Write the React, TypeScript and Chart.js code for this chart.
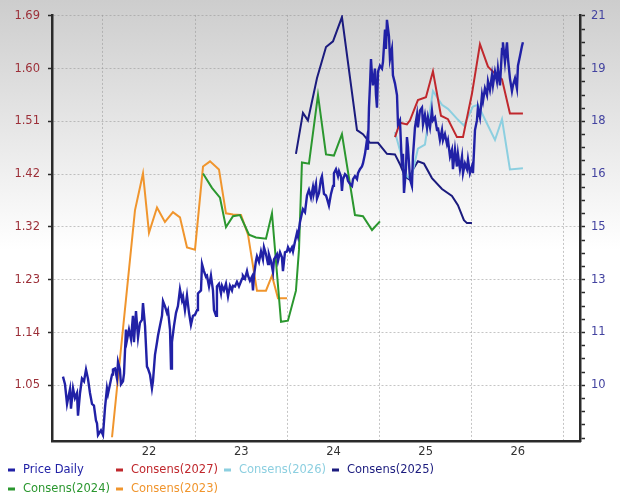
import React, { useEffect, useRef } from 'react';
import { Chart, registerables } from 'chart.js';

Chart.register(...registerables);

// ---------- data ----------
const PRICE_YEARS = [
  2021.566, 2021.588, 2021.610, 2021.642, 2021.653, 2021.675, 2021.696, 2021.718, 2021.729, 2021.751,
  2021.772, 2021.794, 2021.816, 2021.837, 2021.859, 2021.881, 2021.902, 2021.924, 2021.935, 2021.946,
  2021.978, 2022.000, 2022.022, 2022.043, 2022.054, 2022.076, 2022.098, 2022.108, 2022.130, 2022.152,
  2022.163, 2022.184, 2022.195, 2022.217, 2022.228, 2022.249, 2022.260, 2022.282, 2022.304, 2022.325,
  2022.336, 2022.358, 2022.380, 2022.401, 2022.423, 2022.434, 2022.456, 2022.477, 2022.488, 2022.510,
  2022.531, 2022.542, 2022.564, 2022.586, 2022.597, 2022.618, 2022.640, 2022.651, 2022.672, 2022.694,
  2022.705, 2022.727, 2022.738, 2022.748, 2022.770, 2022.792, 2022.813, 2022.835, 2022.857, 2022.868,
  2022.889, 2022.911, 2022.933, 2022.954, 2022.976, 2022.998, 2023.020, 2023.030, 2023.063, 2023.074,
  2023.095, 2023.117, 2023.128, 2023.150, 2023.171, 2023.193, 2023.204, 2023.226, 2023.236, 2023.258,
  2023.280, 2023.291, 2023.312, 2023.334, 2023.356, 2023.377, 2023.399, 2023.410, 2023.432, 2023.453,
  2023.475, 2023.508, 2023.518, 2023.540, 2023.562, 2023.573, 2023.594, 2023.616, 2023.627, 2023.638,
  2023.659, 2023.670, 2023.692, 2023.714, 2023.735, 2023.746, 2023.768, 2023.790, 2023.800, 2023.822,
  2023.844, 2023.855, 2023.887, 2023.898, 2023.920, 2023.941, 2023.952, 2023.974, 2023.996, 2024.007,
  2024.028, 2024.050, 2024.061, 2024.082, 2024.104, 2024.115, 2024.137, 2024.158, 2024.169, 2024.191,
  2024.213, 2024.234, 2024.256, 2024.278, 2024.288, 2024.310, 2024.321, 2024.343, 2024.364, 2024.375,
  2024.397, 2024.419, 2024.430, 2024.451, 2024.473, 2024.495, 2024.505, 2024.527, 2024.549, 2024.560,
  2024.581, 2024.592, 2024.603, 2024.625, 2024.646, 2024.657, 2024.679, 2024.701, 2024.712, 2024.733,
  2024.755, 2024.766, 2024.787, 2024.809, 2024.820, 2024.842, 2024.863, 2024.874, 2024.885, 2024.896,
  2024.907, 2024.918, 2024.928, 2024.950, 2024.961, 2024.972, 2024.983, 2025.004, 2025.026, 2025.037,
  2025.059, 2025.069, 2025.080, 2025.102, 2025.113, 2025.134, 2025.145, 2025.167, 2025.189, 2025.200,
  2025.221, 2025.232, 2025.243, 2025.254, 2025.265, 2025.286, 2025.297, 2025.308, 2025.330, 2025.351,
  2025.362, 2025.384, 2025.406, 2025.416, 2025.438, 2025.460, 2025.471, 2025.492, 2025.514, 2025.525,
  2025.547, 2025.568, 2025.579, 2025.601, 2025.623, 2025.633, 2025.655, 2025.677, 2025.688, 2025.709,
  2025.731, 2025.742, 2025.764, 2025.785, 2025.796, 2025.818, 2025.839, 2025.850, 2025.872, 2025.894,
  2025.905, 2025.926, 2025.948, 2025.959, 2025.980, 2026.002, 2026.013, 2026.035, 2026.056, 2026.067,
  2026.089, 2026.111, 2026.122, 2026.143, 2026.165, 2026.176, 2026.197, 2026.219, 2026.230, 2026.252,
  2026.273, 2026.284, 2026.306, 2026.328, 2026.338, 2026.360, 2026.382, 2026.393, 2026.414, 2026.436,
  2026.447, 2026.469, 2026.490, 2026.501, 2026.523, 2026.544, 2026.555,
];

const PRICE_VALUES = [
  10.06, 9.83, 9.24, 9.68, 9.10, 9.71, 9.42, 9.57, 8.89, 9.57,
  10.00, 9.92, 10.27, 10.00, 9.57, 9.24, 9.19, 8.75, 8.66, 8.31,
  8.45, 8.31, 9.13, 9.71, 9.54, 9.83, 10.12, 10.27, 10.30, 10.00,
  10.50, 10.27, 9.83, 9.92, 10.15, 11.47, 11.15, 11.47, 11.18, 11.88,
  11.09, 12.02, 11.23, 11.67, 11.76, 12.26, 11.58, 10.36, 10.30, 10.12,
  9.71, 9.92, 10.71, 11.09, 11.29, 11.58, 11.88, 12.32, 12.17, 11.97,
  12.05, 11.47, 10.30, 11.09, 11.58, 11.97, 12.17, 12.67, 12.35, 12.46,
  12.05, 12.49, 11.97, 11.61, 11.88, 11.91, 12.05, 12.55, 12.64, 13.43,
  13.22, 13.05, 13.08, 12.76, 13.08, 12.64, 12.05, 11.88, 12.76, 12.84,
  12.55, 12.78, 12.64, 12.84, 12.46, 12.78, 12.64, 12.78, 12.76, 12.90,
  12.76, 12.99, 13.08, 12.99, 13.22, 13.08, 12.93, 13.05, 12.64, 13.08,
  13.52, 13.66, 13.49, 13.81, 13.57, 13.93, 13.72, 13.43, 13.72, 13.52,
  13.19, 13.57, 13.72, 13.52, 13.78, 13.63, 13.22, 13.78, 13.81, 13.93,
  13.81, 13.93, 13.81, 14.10, 14.36, 14.25, 14.69, 14.95, 15.07, 14.98,
  15.48, 15.65, 15.42, 15.74, 15.56, 15.83, 15.39, 15.56, 15.97, 16.06,
  15.53, 15.48, 15.39, 15.18, 15.53, 15.77, 16.15, 16.27, 16.06, 16.21,
  16.06, 15.62, 15.97, 16.12, 16.06, 15.92, 15.83, 15.77, 15.97, 16.06,
  15.97, 16.15, 16.27, 16.35, 16.44, 16.73, 17.14, 16.85, 18.11, 18.78,
  19.57, 19.08, 18.78, 19.28, 18.49, 18.11, 19.19, 19.37, 19.28, 19.48,
  20.45, 19.87, 20.74, 20.25, 19.57, 19.87, 19.08, 18.84, 18.49, 17.61,
  17.73, 17.03, 16.35, 16.73, 15.56, 16.27, 17.23, 16.94, 15.97, 15.77,
  16.65, 17.52, 17.90, 17.52, 18.02, 18.11, 17.61, 17.90, 17.52, 17.82,
  17.52, 18.02, 17.73, 17.82, 17.44, 17.52, 17.14, 17.44, 17.14, 17.32,
  17.03, 17.14, 16.65, 16.85, 16.27, 16.85, 16.35, 16.73, 16.27, 16.65,
  16.15, 16.44, 16.27, 16.56, 16.15, 16.35, 16.15, 17.44, 17.73, 18.11,
  17.82, 18.49, 18.31, 18.69, 18.49, 18.90, 18.64, 19.08, 18.78, 19.19,
  18.90, 19.28, 18.78, 19.87, 20.07, 19.48, 20.07, 19.57, 18.99, 18.61,
  18.78, 18.99, 18.69, 19.37, 19.66, 19.95, 20.07,
];

const C2027_YEARS = [2025.167, 2025.221, 2025.297, 2025.330, 2025.416, 2025.503, 2025.579, 2025.666, 2025.742, 2025.839, 2025.905, 2026.002, 2026.089, 2026.176, 2026.252, 2026.328, 2026.414, 2026.555];
const C2027_VALUES = [1.480, 1.505, 1.502, 1.509, 1.544, 1.549, 1.594, 1.517, 1.511, 1.480, 1.480, 1.555, 1.641, 1.602, 1.590, 1.580, 1.521, 1.521];

const C2026_YEARS = [2025.167, 2025.297, 2025.341, 2025.416, 2025.492, 2025.579, 2025.677, 2025.742, 2025.839, 2025.915, 2026.013, 2026.067, 2026.154, 2026.252, 2026.328, 2026.414, 2026.555];
const C2026_VALUES = [1.489, 1.412, 1.407, 1.460, 1.467, 1.560, 1.536, 1.529, 1.512, 1.500, 1.533, 1.536, 1.507, 1.475, 1.511, 1.424, 1.426];

const C2025_YEARS = [2024.093, 2024.169, 2024.223, 2024.321, 2024.419, 2024.495, 2024.592, 2024.755, 2024.820, 2024.896, 2024.983, 2025.080, 2025.167, 2025.221, 2025.275, 2025.319, 2025.362, 2025.416, 2025.482, 2025.568, 2025.677, 2025.785, 2025.850, 2025.915, 2025.948, 2026.002];
const C2025_VALUES = [1.451, 1.522, 1.509, 1.582, 1.636, 1.646, 1.688, 1.492, 1.485, 1.470, 1.470, 1.451, 1.450, 1.433, 1.412, 1.407, 1.424, 1.438, 1.434, 1.409, 1.390, 1.378, 1.362, 1.336, 1.331, 1.331];

const C2024_YEARS = [2023.085, 2023.182, 2023.269, 2023.334, 2023.410, 2023.486, 2023.584, 2023.659, 2023.768, 2023.833, 2023.931, 2024.006, 2024.093, 2024.126, 2024.158, 2024.234, 2024.332, 2024.419, 2024.505, 2024.592, 2024.733, 2024.820, 2024.918, 2025.004];
const C2024_VALUES = [1.417, 1.392, 1.375, 1.324, 1.343, 1.345, 1.311, 1.306, 1.304, 1.348, 1.160, 1.162, 1.214, 1.285, 1.436, 1.434, 1.553, 1.450, 1.448, 1.485, 1.345, 1.343, 1.319, 1.334];

const C2023_YEARS = [2022.098, 2022.347, 2022.434, 2022.499, 2022.586, 2022.672, 2022.759, 2022.835, 2022.911, 2022.998, 2023.085, 2023.161, 2023.258, 2023.334, 2023.410, 2023.497, 2023.573, 2023.670, 2023.768, 2023.833, 2023.898, 2023.996];
const C2023_VALUES = [0.960, 1.353, 1.417, 1.314, 1.358, 1.333, 1.350, 1.341, 1.289, 1.285, 1.429, 1.438, 1.424, 1.348, 1.346, 1.345, 1.311, 1.214, 1.214, 1.240, 1.201, 1.201];

// axis ticks
const YEAR_LINES = [2022, 2023, 2024, 2025, 2026, 2027];
const YEAR_LABELS = ['22', '23', '24', '25', '26'];
const EPS_TICKS = [1.05, 1.1414, 1.2329, 1.3243, 1.4157, 1.5071, 1.5986, 1.69];
const EPS_TICK_LABELS = ['1.05', '1.14', '1.23', '1.32', '1.42', '1.51', '1.60', '1.69'];
const PRICE_TICKS = [9.8, 11.38, 12.96, 14.54, 16.12, 17.7, 19.28, 20.86];
const PRICE_TICK_LABELS = ['10', '11', '13', '15', '16', '18', '19', '21'];

const X_MIN = 2021.447;
const X_MAX = 2027.174;
const EPS_MIN = 0.9535;
const EPS_MAX = 1.6917;
const PRICE_MIN = 8.132;
const PRICE_MAX = 20.889;

const SERIES = [
  { label: 'Price Daily', years: PRICE_YEARS, values: PRICE_VALUES, color: '#2121a6', axis: 'yR', width: 2.4 },
  { label: 'Consens(2027)', years: C2027_YEARS, values: C2027_VALUES, color: '#c0282d', axis: 'yL', width: 2 },
  { label: 'Consens(2026)', years: C2026_YEARS, values: C2026_VALUES, color: '#8ccfe0', axis: 'yL', width: 2 },
  { label: 'Consens(2025)', years: C2025_YEARS, values: C2025_VALUES, color: '#1b1b7e', axis: 'yL', width: 2 },
  { label: 'Consens(2024)', years: C2024_YEARS, values: C2024_VALUES, color: '#2b972f', axis: 'yL', width: 2 },
  { label: 'Consens(2023)', years: C2023_YEARS, values: C2023_VALUES, color: '#f0952d', axis: 'yL', width: 2 },
];

const FONT_FAMILY = '"DejaVu Sans", Verdana, sans-serif';
const LEGEND_SLOTS = [
  { x: 23, y: 470 }, { x: 131, y: 470 }, { x: 239, y: 470 }, { x: 347, y: 470 },
  { x: 23, y: 489 }, { x: 131, y: 489 },
];

const legendPlugin = {
  id: 'bottomLegend',
  afterDraw(chart: any) {
    const ctx = chart.ctx;
    ctx.save();
    ctx.font = `11.5px ${FONT_FAMILY}`;
    ctx.textBaseline = 'middle';
    ctx.textAlign = 'left';
    chart.data.datasets.forEach((ds: any, i: number) => {
      const slot = LEGEND_SLOTS[i];
      if (!slot) return;
      ctx.fillStyle = ds.borderColor;
      ctx.fillRect(slot.x - 15, slot.y - 1.5, 7, 3);
      ctx.fillText(ds.label, slot.x, slot.y);
    });
    ctx.restore();
  },
};

const GRID_COLOR = 'rgba(150,150,150,0.55)';
const AXIS_COLOR = '#2a2a2a';

export default function App() {
  const ref = useRef<HTMLCanvasElement>(null);

  useEffect(() => {
    const canvas = ref.current;
    if (!canvas) return;
    Chart.defaults.font.family = FONT_FAMILY;

    const datasets = SERIES.map((s) => ({
      label: s.label,
      data: s.years.map((x, i) => ({ x, y: s.values[i] })),
      borderColor: s.color,
      backgroundColor: s.color,
      borderWidth: s.width,
      pointRadius: 0,
      tension: 0,
      fill: false,
      yAxisID: s.axis,
    }));

    const chart = new Chart(canvas, {
      type: 'line',
      data: { datasets },
      options: {
        animation: false,
        responsive: false,
        events: [],
        layout: { padding: { top: 5, bottom: 41, left: 0, right: 0 }, autoPadding: false },
        plugins: { legend: { display: false }, tooltip: { enabled: false } },
        scales: {
          x: {
            type: 'linear',
            min: X_MIN,
            max: X_MAX,
            bounds: 'data',
            afterFit: (s: any) => { s.height = 20; },
            afterBuildTicks: (axis: any) => {
              const t: any[] = [];
              YEAR_LINES.forEach((y, i) => {
                t.push({ value: y });
                if (i < YEAR_LABELS.length) t.push({ value: y + 0.5 });
              });
              axis.ticks = t;
            },
            ticks: {
              autoSkip: false,
              maxRotation: 0,
              padding: 4,
              color: '#333333',
              font: { size: 11.5 },
              callback: (v: any) => {
                const i = YEAR_LINES.findIndex((y) => Math.abs(y + 0.5 - v) < 1e-6);
                return i >= 0 ? YEAR_LABELS[i] : '';
              },
            },
            grid: {
              drawTicks: false,
              lineWidth: 1,
              color: (c: any) => (c.tick && YEAR_LINES.includes(c.tick.value) ? GRID_COLOR : 'rgba(0,0,0,0)'),
            },
            border: { display: true, color: AXIS_COLOR, width: 2.5, dash: [2, 2] },
          },
          yL: {
            type: 'linear',
            position: 'left',
            min: EPS_MIN,
            max: EPS_MAX,
            bounds: 'data',
            afterFit: (s: any) => { s.width = 52; },
            afterBuildTicks: (axis: any) => {
              axis.ticks = EPS_TICKS.map((v) => ({ value: v }));
            },
            ticks: {
              autoSkip: false,
              padding: 8,
              color: '#9c2f38',
              font: { size: 11.5 },
              callback: (v: any) => {
                const i = EPS_TICKS.findIndex((t) => Math.abs(t - v) < 1e-6);
                return i >= 0 ? EPS_TICK_LABELS[i] : '';
              },
            },
            grid: {
              color: GRID_COLOR,
              lineWidth: 1,
              tickLength: 4,
              tickColor: AXIS_COLOR,
              tickWidth: 1.5,
              tickBorderDash: [],
            },
            border: { display: true, color: AXIS_COLOR, width: 2.5, dash: [2, 2] },
          },
          yR: {
            type: 'linear',
            position: 'right',
            min: PRICE_MIN,
            max: PRICE_MAX,
            bounds: 'data',
            afterFit: (s: any) => { s.width = 40; },
            afterBuildTicks: (axis: any) => {
              const step = (PRICE_TICKS[1] - PRICE_TICKS[0]) / 4;
              const out: any[] = [];
              for (let j = -8; j <= 40; j++) {
                const v = PRICE_TICKS[0] + j * step;
                if (v >= PRICE_MIN - 1e-9 && v <= PRICE_MAX + 1e-9) out.push({ value: v });
              }
              axis.ticks = out;
            },
            ticks: {
              autoSkip: false,
              padding: 6,
              color: '#4343a0',
              font: { size: 11.5 },
              callback: (v: any) => {
                const i = PRICE_TICKS.findIndex((t) => Math.abs(t - v) < 1e-6);
                return i >= 0 ? PRICE_TICK_LABELS[i] : '';
              },
            },
            grid: {
              drawOnChartArea: false,
              tickLength: 5,
              tickColor: AXIS_COLOR,
              tickWidth: 1.5,
              tickBorderDash: [],
            },
            border: { display: true, color: AXIS_COLOR, width: 2.5 },
          },
        },
      },
      plugins: [legendPlugin],
    } as any);

    return () => chart.destroy();
  }, []);

  return (
    <div
      style={{
        position: 'absolute',
        left: 0,
        top: 0,
        width: 620,
        height: 502,
        overflow: 'hidden',
        background: 'linear-gradient(to bottom, #cdcdcd 0px, #ffffff 250px, #ffffff 502px)',
      }}
    >
      <canvas ref={ref} width={620} height={502} style={{ display: 'block' }} />
    </div>
  );
}
